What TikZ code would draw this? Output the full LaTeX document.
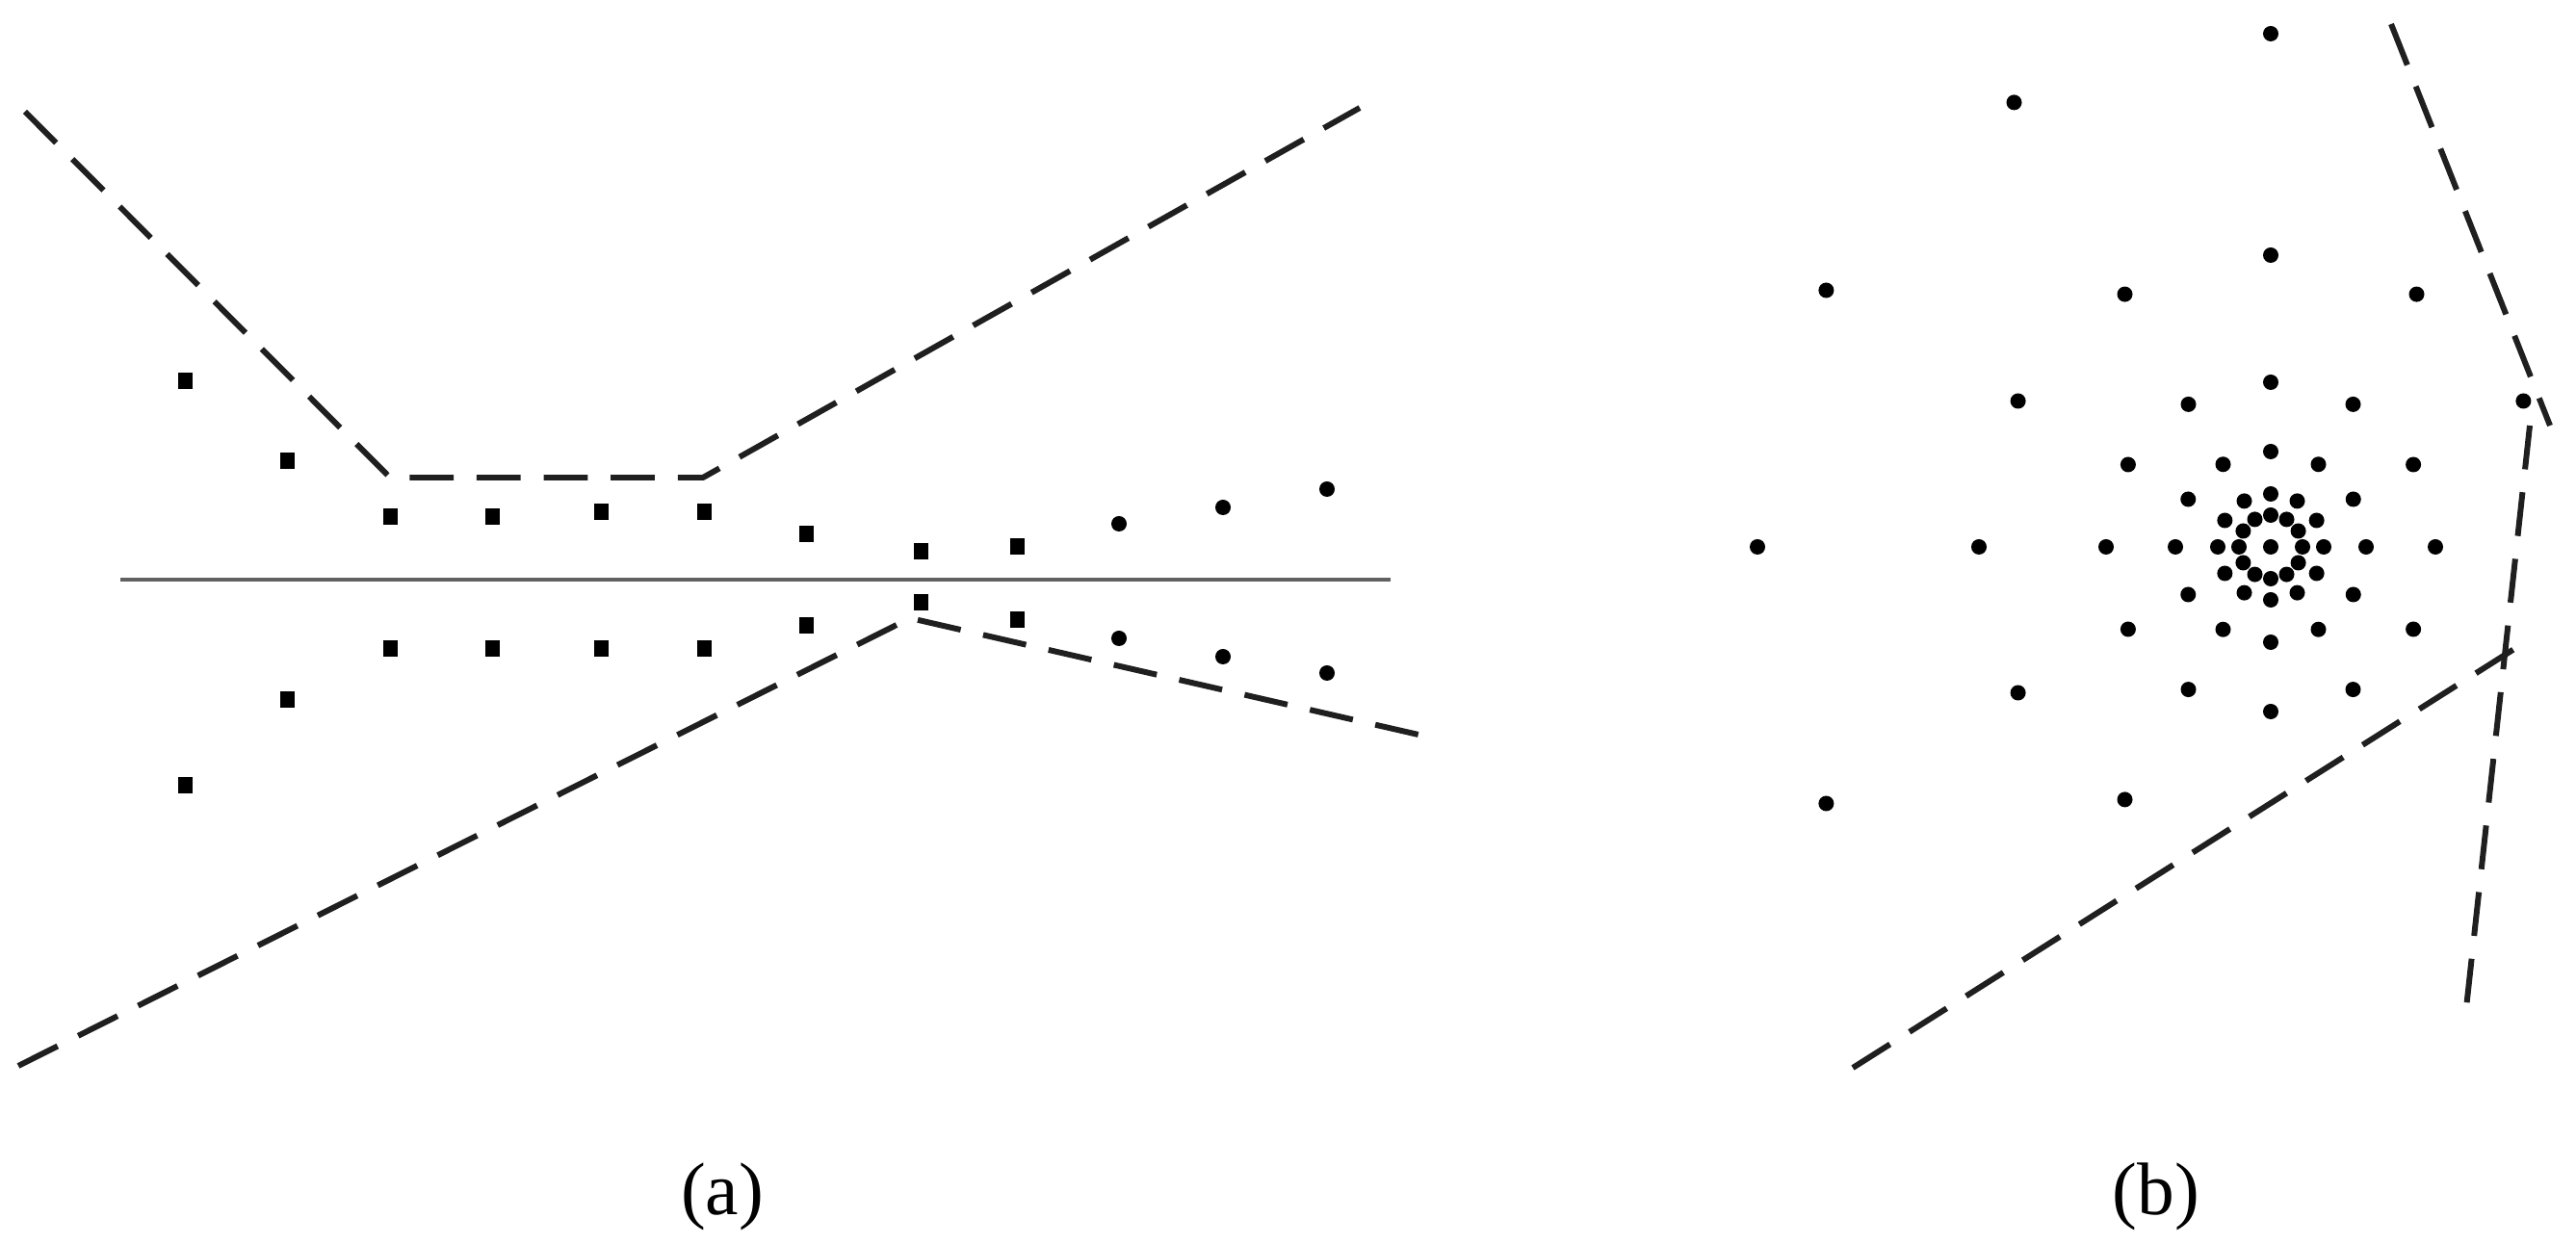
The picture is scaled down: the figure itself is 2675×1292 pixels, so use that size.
\documentclass[tikz,border=0pt]{standalone}
\usepackage{fontspec}
\setmainfont{Liberation Serif}
\begin{document}
\begin{tikzpicture}[x=0.01cm,y=-0.01cm,
  bound/.style={line width=1.7pt, draw=black!88, line join=round, dash pattern=on 13pt off 6.8pt},
  axisline/.style={line width=1.3pt, draw=black!62},
  dotr/.style={},
  lab/.style={font=\fontsize{22}{26}\selectfont, inner sep=0pt}]
\useasboundingbox (0,0) rectangle (2675,1292);

% ---------- panel (a) ----------
\draw[axisline] (125,602) -- (1444,602);
\draw[bound] (26,116) -- (405,496) -- (730,496) -- (1412,112);
\draw[bound] (19,1107) -- (945,642) -- (1473,763);

\foreach \x/\y in {192/396,298/479,405/537,511/537,624/532,731/532,837/555,956/573,1056/568,
                   192/816,298/727,405/674,511/674,624/674,731/674,837/650,956/626,1056/644}
  \fill (\x-7.5,\y-8.5) rectangle (\x+7.5,\y+8.5);
\foreach \x/\y in {1162/544,1270/527,1378/508,1162/663,1270/682,1378/699}
  \fill (\x,\y) circle[radius=0.08cm];

\node[lab] (la) at (750,1243) {(a)};

% ---------- panel (b) ----------
\draw[bound] (2483,25) -- (2648,442);
\draw[bound] (2627,442) -- (2561,1047);
\draw[bound] (1924,1109) -- (2614,672);

\fill (2358,568) circle[radius=0.08cm];
\foreach \r in {33,55,99,171}
  \foreach \a in {0,30,...,330}
    \fill ({2358+\r*cos(\a)},{568-\r*sin(\a)}) circle[radius=0.08cm];
\foreach \a in {30,60,...,240}
  \fill ({2358+303*cos(\a)},{568-303*sin(\a)}) circle[radius=0.08cm];
\foreach \a in {90,120,...,210}
  \fill ({2358+533*cos(\a)},{568-533*sin(\a)}) circle[radius=0.08cm];

\node[lab] (lb) at (2239,1243) {(b)};
\end{tikzpicture}
\end{document}
